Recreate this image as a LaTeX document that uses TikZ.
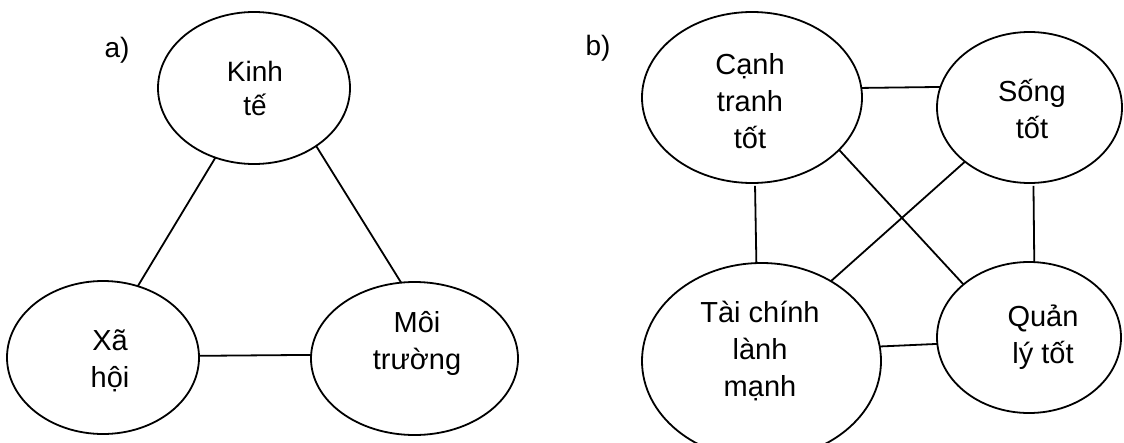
\documentclass[tikz,border=0pt]{standalone}
\usepackage{fontspec}
\setmainfont{Liberation Sans}
\usetikzlibrary{shapes.geometric}

\tikzset{
  bubble/.style={draw, ellipse, line width=1.8pt, inner sep=0pt, outer sep=0pt},
  lbl/.style={align=center, inner sep=0pt, font=\fontsize{29}{37}\selectfont},
  tag/.style={inner sep=0pt, font=\fontsize{28}{34}\selectfont},
  link/.style={line width=1.8pt}
}

\begin{document}
\begin{tikzpicture}[x=1pt, y=-1pt]
  \useasboundingbox (0,0) rectangle (1124,442);

  % ---- a) three pillars ----
  \node[tag] (ta) at (117,50) {a)};
  \node[bubble, minimum width=192pt, minimum height=152pt] (kt) at (254,88) {};
  \node[bubble, minimum width=192pt, minimum height=153pt] (xh) at (103,357.5) {};
  \node[bubble, minimum width=207pt, minimum height=153pt] (mt) at (414.5,358.5) {};

  \node[lbl, font=\fontsize{28}{34}\selectfont] (tkt) at (255,88.5) {Kinh\\tế};
  \node[lbl] (txh) at (110,361) {Xã\\hội};
  \node[lbl] (tmt) at (417,343.5) {Môi\\trường};

  \draw[link] (kt.241.6) -- (xh.64.2);
  \draw[link] (kt.317.3) -- (mt.100.6);
  \draw[link] (xh.1.5) -- (mt.178);

  % ---- b) four qualities ----
  \node[tag] (tb) at (598,48) {b)};
  \node[bubble, minimum width=220pt, minimum height=171pt] (ct) at (752,97.5) {};
  \node[bubble, minimum width=185pt, minimum height=151pt] (st) at (1029.5,107.5) {};
  \node[bubble, minimum width=239pt, minimum height=196pt] (tc) at (761.5,361) {};
  \node[bubble, minimum width=184pt, minimum height=151pt] (ql) at (1029,337.5) {};

  \node[lbl] (tct) at (750,101) {Cạnh\\tranh\\tốt};
  \node[lbl] (tst) at (1032,108.5) {Sống\\tốt};
  \node[lbl] (ttc) at (760,351.5) {Tài chính\\lành\\mạnh};
  \node[lbl] (tql) at (1043,337.5) {Quản\\lý tốt};

  \draw[link] (ct.5.5) -- (st.167.5);
  \draw[link] (ct.329.2) -- (ql.141.9);
  \draw[link, shorten <=3pt] (ct.272) -- (tc.93.8);
  \draw[link] (st.220.7) -- (tc.49.3);
  \draw[link, shorten <=3pt] (st.273) -- (ql.86.6);
  \draw[link] (tc.7.7) -- (ql.184.7);
\end{tikzpicture}
\end{document}
